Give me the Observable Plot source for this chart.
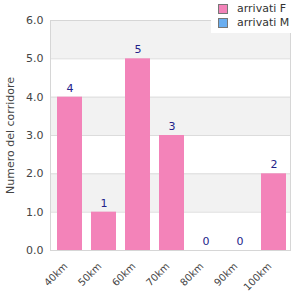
<!DOCTYPE html>
<html><head><meta charset="utf-8">
<script src="https://cdn.jsdelivr.net/npm/d3@7"></script>
<script src="https://cdn.jsdelivr.net/npm/@observablehq/plot@0.6"></script>
<style>
body{margin:0;background:#fff;font-family:"DejaVu Sans",sans-serif;}
#wrap{position:relative;width:300px;height:300px;}
#legend{position:absolute;left:211px;top:0;width:89px;height:33px;background:#fff;font-size:11px;color:#333;}
.item{position:absolute;left:7px;display:flex;align-items:center;}
.sw{width:8px;height:8px;border:1px solid #777;margin-right:9px;}
</style></head><body>
<div id="wrap"><div id="chart"></div>
<div id="legend"></div></div>
<script>
const categories = ["40km","50km","60km","70km","80km","90km","100km"];
const valuesF = [4,1,5,3,0,0,2];
const seriesNames = ["arrivati F","arrivati M"];
const seriesColors = ["#f383b9","#6aaef0"];
const yTicks = [0,1,2,3,4,5,6];
const bands = [[5,6],[3,4],[1,2]];

const data = categories.map((c,i)=>({cat:c, v:valuesF[i]}));
const chart = Plot.plot({
  width:300, height:300,
  marginLeft:50, marginRight:10, marginTop:20, marginBottom:50,
  style:{fontFamily:"DejaVu Sans, sans-serif", fontSize:"11px", color:"#444", background:"#fff"},
  x:{domain:categories, paddingInner:0.27, paddingOuter:0.135, label:null, range:[51.3,291.6]},
  y:{domain:[0,6], label:null},
  marks:[
    Plot.rect(bands,{y1:d=>d[0],y2:d=>d[1],fill:"#f2f2f2"}),
    Plot.gridY(yTicks,{stroke:"#dcdcdc",strokeOpacity:1}),
    Plot.barY(data,{x:"cat",y:"v",fill:seriesColors[0]}),
    Plot.text(data,{x:"cat",y:"v",text:d=>String(d.v),dy:-9,fill:"#22228a",fontSize:11}),
    Plot.frame({stroke:"#d6d6d6"}),
    Plot.axisY(yTicks,{tickSize:0,tickPadding:7,tickFormat:d=>d.toFixed(1),fontSize:11,fill:"#444",label:"Numero del corridore",labelAnchor:"center",labelArrow:"none",labelOffset:44}),
    Plot.axisX({tickSize:0,tickRotate:-45,tickPadding:14,dx:-4,fontSize:10,fill:"#444",label:null})
  ]
});
document.getElementById("chart").appendChild(chart);
const lg = document.getElementById("legend");
seriesNames.forEach((n,i)=>{
  const it=document.createElement("div");
  it.className="item"; it.style.top=(i*14+2)+"px";
  it.innerHTML=`<span class="sw" style="background:${seriesColors[i]}"></span><span>${n}</span>`;
  lg.appendChild(it);
});
</script></body></html>
